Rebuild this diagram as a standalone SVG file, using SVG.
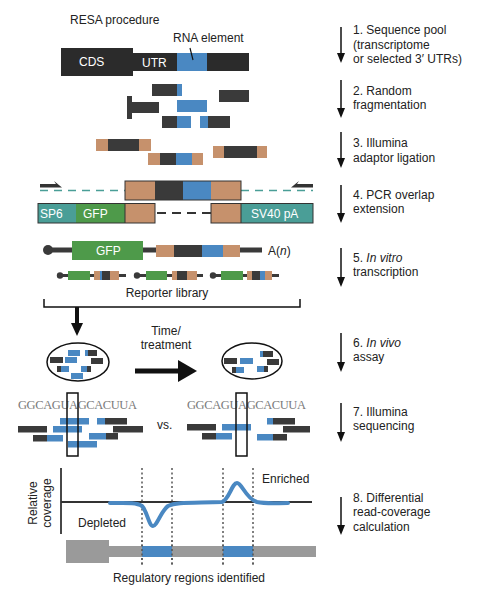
<svg xmlns="http://www.w3.org/2000/svg" width="477" height="596" viewBox="0 0 477 596">
<style>
text{font-family:"Liberation Sans",Arial,sans-serif;font-size:12px;fill:#222}
.w{fill:#fff}
.seq{font-family:"Liberation Serif","Times New Roman",serif;font-size:12.5px;fill:#7a7a7a}
.d{fill:#3a3a3a}
.b{fill:#4a88c2}
.t{fill:#c6916c}
.g{fill:#4e9a4a}
.tl{fill:#4a9e97}
.gr{fill:#9a9a9a}
.dot{stroke:#555;stroke-width:1.5;stroke-dasharray:2,2.5;fill:none}
.step{stroke:#111;stroke-width:1.5;fill:none}
.head{fill:#111}
</style>

<rect width="477" height="596" fill="#fff"/>

<g id="title"><text x="70" y="24">RESA procedure</text></g>

<g id="transcript">
<rect x="61" y="48" width="72" height="28" fill="#2b2b2b"/>
<rect x="132" y="53" width="117" height="18" fill="#2b2b2b"/>
<rect x="177" y="53" width="30" height="18" class="b"/>
<text x="79" y="66" class="w">CDS</text>
<text x="142" y="67" class="w">UTR</text>
<text x="173" y="42">RNA element</text>
<line x1="190" y1="48" x2="193" y2="60" stroke="#111" stroke-width="1.2"/>
</g>

<g id="fragments">
<rect x="152" y="84" width="25" height="12" class="d"/><rect x="177" y="84" width="5" height="12" class="b"/>
<rect x="219" y="90" width="30" height="12" class="d"/>
<rect x="127" y="96" width="5" height="23" class="d"/><rect x="132" y="102" width="27" height="11" class="d"/>
<rect x="177" y="100" width="30" height="12" class="b"/>
<rect x="162" y="116" width="15" height="12" class="d"/><rect x="177" y="116" width="14" height="12" class="b"/>
<rect x="200" y="116" width="8" height="12" class="b"/><rect x="208" y="116" width="22" height="12" class="d"/>
</g>

<g id="adaptors">
<rect x="96" y="139" width="12" height="12" class="t"/><rect x="108" y="139" width="31" height="12" class="d"/><rect x="139" y="139" width="12" height="12" class="t"/>
<rect x="148" y="153" width="12" height="12" class="t"/><rect x="160" y="153" width="16" height="12" class="d"/><rect x="176" y="153" width="16" height="12" class="b"/><rect x="192" y="153" width="11" height="12" class="t"/>
<rect x="213" y="146" width="11" height="12" class="t"/><rect x="224" y="146" width="33" height="12" class="d"/><rect x="257" y="146" width="10" height="12" class="t"/>
</g>

<g id="pcr">
<polygon points="40,184 56,184 54,181 62,187.5 40,187.5" fill="#333"/>
<polygon points="313,184 297,184 299,181 291,187.5 313,187.5" fill="#333"/>
<line x1="40" y1="190.5" x2="125" y2="190.5" stroke="#4a9e97" stroke-width="1.5" stroke-dasharray="8,6"/>
<line x1="241" y1="190.5" x2="313" y2="190.5" stroke="#4a9e97" stroke-width="1.5" stroke-dasharray="8,6"/>
<rect x="125" y="181" width="30" height="19" class="t"/><rect x="155" y="181" width="28" height="19" class="d"/><rect x="183" y="181" width="28" height="19" class="b"/><rect x="211" y="181" width="30" height="19" class="t"/>
<rect x="125" y="181" width="116" height="19" fill="none" stroke="#333" stroke-width="1"/>
<rect x="38" y="203.5" width="38" height="19.5" class="tl"/><rect x="76" y="203.5" width="49" height="19.5" class="g"/><rect x="125" y="203.5" width="30" height="19.5" class="t"/>
<rect x="211" y="203.5" width="30" height="19.5" class="t"/><rect x="241" y="203.5" width="72" height="19.5" class="tl"/>
<rect x="38" y="203.5" width="117" height="19.5" fill="none" stroke="#333" stroke-width="1"/>
<rect x="211" y="203.5" width="102" height="19.5" fill="none" stroke="#333" stroke-width="1"/>
<line x1="125" y1="203.5" x2="125" y2="223" stroke="#333" stroke-width="1"/>
<line x1="241" y1="203.5" x2="241" y2="223" stroke="#333" stroke-width="1"/>
<line x1="157" y1="213" x2="211" y2="213" stroke="#333" stroke-width="2" stroke-dasharray="9,6"/>
<text x="40" y="218" class="w">SP6</text>
<text x="83" y="218" class="w">GFP</text>
<text x="251" y="218" class="w">SV40 pA</text>
</g>

<g id="reporter">
<line x1="48" y1="250" x2="262" y2="250" stroke="#3a3a3a" stroke-width="5"/>
<circle cx="48" cy="250" r="5" class="d"/>
<rect x="72" y="241" width="71" height="19" class="g"/>
<text x="96" y="255" class="w">GFP</text>
<rect x="156" y="245" width="18" height="12" class="t"/><rect x="174" y="245" width="28" height="12" class="d"/><rect x="202" y="245" width="21" height="12" class="b"/><rect x="223" y="245" width="17" height="12" class="t"/>
<text x="268" y="255">A(<tspan font-style="italic">n</tspan>)</text>
</g>

<g id="library">
<line x1="60" y1="275.5" x2="126" y2="275.5" stroke="#3a3a3a" stroke-width="3"/>
<circle cx="60" cy="275.5" r="3.2" class="d"/>
<rect x="68" y="271" width="22" height="9" class="g"/><rect x="94" y="271" width="6" height="9" class="t"/><rect x="100" y="271" width="2" height="9" class="b"/><rect x="102" y="271" width="8" height="9" class="d"/><rect x="110" y="271" width="9" height="9" class="t"/>
<line x1="137" y1="275.5" x2="203" y2="275.5" stroke="#3a3a3a" stroke-width="3"/>
<circle cx="137" cy="275.5" r="3.2" class="d"/>
<rect x="146" y="271" width="21" height="9" class="g"/><rect x="172" y="271" width="5" height="9" class="t"/><rect x="177" y="271" width="10" height="9" class="d"/><rect x="187" y="271" width="10" height="9" class="t"/>
<line x1="213" y1="275.5" x2="279" y2="275.5" stroke="#3a3a3a" stroke-width="3"/>
<circle cx="213" cy="275.5" r="3.2" class="d"/>
<rect x="221" y="271" width="22" height="9" class="g"/><rect x="247" y="271" width="5" height="9" class="t"/><rect x="252" y="271" width="8" height="9" class="d"/><rect x="260" y="271" width="5" height="9" class="b"/><rect x="265" y="271" width="7" height="9" class="t"/>
<text x="167" y="297" text-anchor="middle">Reporter library</text>
<path d="M44,299 V307 H300 V299" fill="none" stroke="#111" stroke-width="1.5"/>
</g>

<g id="connectors">
<line x1="77" y1="307" x2="77" y2="325" stroke="#111" stroke-width="4"/>
<polygon points="71,323 83,323 77,336" fill="#111"/>
<line x1="135" y1="371" x2="180" y2="371" stroke="#111" stroke-width="5"/>
<polygon points="178,360 178,382 197,371" fill="#111"/>
<line x1="341" y1="27" x2="341" y2="55" class="step"/><polygon points="337,53 345,53 341,63" class="head"/>
<line x1="341" y1="80" x2="341" y2="110" class="step"/><polygon points="337,108 345,108 341,118" class="head"/>
<line x1="341" y1="132" x2="341" y2="160" class="step"/><polygon points="337,158 345,158 341,168" class="head"/>
<line x1="341" y1="185" x2="341" y2="215" class="step"/><polygon points="337,213 345,213 341,223" class="head"/>
<line x1="341" y1="248" x2="341" y2="279" class="step"/><polygon points="337,277 345,277 341,287" class="head"/>
<line x1="341" y1="333" x2="341" y2="364" class="step"/><polygon points="337,362 345,362 341,372" class="head"/>
<line x1="341" y1="403" x2="341" y2="434" class="step"/><polygon points="337,432 345,432 341,442" class="head"/>
<line x1="341" y1="497" x2="341" y2="527" class="step"/><polygon points="337,525 345,525 341,535" class="head"/>
</g>

<g id="time-label">
<text x="166" y="335" text-anchor="middle">Time/</text>
<text x="166" y="349" text-anchor="middle">treatment</text>
</g>

<g id="cell1">
<ellipse cx="78" cy="362" rx="31" ry="19" fill="none" stroke="#111" stroke-width="1.5"/>
<rect x="68" y="350" width="12" height="6" class="b"/>
<rect x="85" y="350" width="3" height="6" class="b"/><rect x="88" y="350" width="9" height="6" class="d"/>
<rect x="50" y="357" width="13" height="6" class="d"/>
<rect x="65" y="357" width="12" height="6" class="b"/>
<rect x="91" y="358" width="12" height="6" class="d"/>
<rect x="57" y="366" width="4" height="6" class="d"/><rect x="61" y="366" width="8" height="6" class="b"/>
<rect x="81" y="366" width="6" height="6" class="b"/><rect x="87" y="366" width="4" height="6" class="d"/>
<rect x="71" y="373" width="12" height="6" class="b"/>
</g>

<g id="cell2">
<ellipse cx="252" cy="361" rx="30" ry="18" fill="none" stroke="#111" stroke-width="1.5"/>
<rect x="260" y="351" width="3" height="6" class="b"/><rect x="263" y="351" width="10" height="6" class="d"/>
<rect x="224" y="358" width="13" height="6" class="d"/>
<rect x="240" y="358" width="13" height="6" class="b"/>
<rect x="267" y="359" width="12" height="6" class="d"/>
<rect x="232" y="367" width="4" height="6" class="d"/><rect x="236" y="367" width="8" height="6" class="b"/>
<rect x="257" y="366" width="7" height="6" class="b"/><rect x="264" y="366" width="4" height="6" class="d"/>
</g>

<g id="reads-left">
<text x="18" y="409" class="seq" textLength="119" lengthAdjust="spacing">GGCAGUAGCACUUA</text>
<rect x="60" y="418" width="29" height="6.5" class="b"/>
<rect x="97" y="418" width="8" height="6.5" class="b"/><rect x="105" y="418" width="22" height="6.5" class="d"/>
<rect x="18" y="426" width="29" height="6.5" class="d"/>
<rect x="53" y="426" width="29" height="6.5" class="b"/>
<rect x="113" y="426" width="30" height="6.5" class="d"/>
<rect x="33" y="435" width="14" height="6.5" class="d"/><rect x="47" y="435" width="16" height="6.5" class="b"/>
<rect x="89" y="433" width="17" height="6.5" class="b"/><rect x="106" y="433" width="12" height="6.5" class="d"/>
<rect x="68" y="441" width="29" height="6.5" class="b"/>
<rect x="67" y="393" width="11" height="63" fill="none" stroke="#111" stroke-width="1.5"/>
</g>

<g id="vs"><text x="157" y="429">vs.</text></g>

<g id="reads-right">
<text x="187" y="409" class="seq" textLength="119" lengthAdjust="spacing">GGCAGUAGCACUUA</text>
<rect x="187" y="424" width="29" height="6.5" class="d"/>
<rect x="222" y="424" width="29" height="6.5" class="b"/>
<rect x="267" y="418" width="6" height="6.5" class="b"/><rect x="273" y="418" width="22" height="6.5" class="d"/>
<rect x="283" y="426" width="27" height="6.5" class="d"/>
<rect x="202" y="433" width="14" height="6.5" class="d"/><rect x="216" y="433" width="16" height="6.5" class="b"/>
<rect x="257" y="434" width="16" height="6.5" class="b"/><rect x="273" y="434" width="14" height="6.5" class="d"/>
<rect x="236" y="393" width="11" height="63" fill="none" stroke="#111" stroke-width="1.5"/>
</g>

<g id="coverage-plot">
<line x1="142" y1="468" x2="142" y2="567" class="dot"/>
<line x1="172" y1="468" x2="172" y2="567" class="dot"/>
<line x1="223" y1="468" x2="223" y2="567" class="dot"/>
<line x1="253" y1="468" x2="253" y2="567" class="dot"/>
<line x1="61" y1="468" x2="61" y2="534" stroke="#333" stroke-width="1.8"/>
<line x1="61" y1="502" x2="312" y2="502" stroke="#333" stroke-width="1.8"/>
<path d="M110,503 C125,503 136,502 142,506 C147,511 149,526 153,526 C157,526 161,511 168,506 C176,502 190,503 222,502 C229,500 232,483 237,483 C242,483 246,499 257,502 C266,504 276,503 288,503" fill="none" stroke="#4a88c2" stroke-width="4" stroke-linecap="round"/>
<text transform="translate(37,503) rotate(-90)" text-anchor="middle">Relative</text>
<text transform="translate(51,503) rotate(-90)" text-anchor="middle">coverage</text>
<text x="262" y="483">Enriched</text>
<text x="78" y="527">Depleted</text>
</g>

<g id="gene">
<rect x="66" y="540" width="43" height="23" class="gr"/>
<rect x="109" y="546" width="207" height="11" class="gr"/>
<rect x="142" y="546" width="30" height="11" class="b"/>
<rect x="223" y="546" width="30" height="11" class="b"/>
<line x1="142" y1="540" x2="142" y2="567" class="dot"/>
<line x1="172" y1="540" x2="172" y2="567" class="dot"/>
<line x1="223" y1="540" x2="223" y2="567" class="dot"/>
<line x1="253" y1="540" x2="253" y2="567" class="dot"/>
<text x="189" y="582" text-anchor="middle">Regulatory regions identified</text>
</g>

<g id="steps">
<text x="353" y="34">1. Sequence pool</text>
<text x="353" y="49">(transcriptome</text>
<text x="353" y="63">or selected 3′ UTRs)</text>
<text x="353" y="95">2. Random</text>
<text x="353" y="109">fragmentation</text>
<text x="353" y="147">3. Illumina</text>
<text x="353" y="162">adaptor ligation</text>
<text x="353" y="199">4. PCR overlap</text>
<text x="353" y="213">extension</text>
<text x="353" y="262">5. <tspan font-style="italic">In vitro</tspan></text>
<text x="353" y="276">transcription</text>
<text x="353" y="347">6. <tspan font-style="italic">In vivo</tspan></text>
<text x="353" y="361">assay</text>
<text x="353" y="416">7. Illumina</text>
<text x="353" y="430">sequencing</text>
<text x="353" y="502">8. Differential</text>
<text x="353" y="516">read-coverage</text>
<text x="353" y="531">calculation</text>
</g>
</svg>
